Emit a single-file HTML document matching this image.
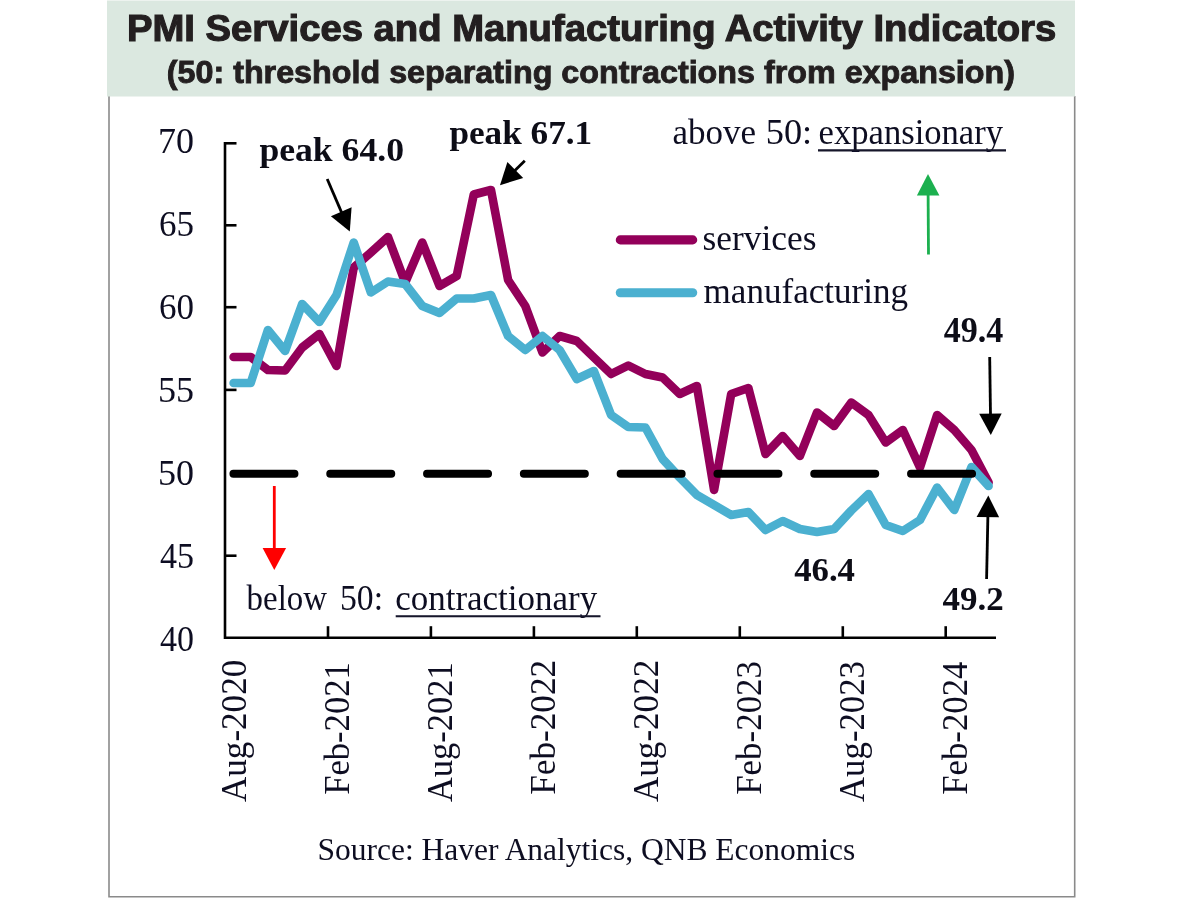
<!DOCTYPE html>
<html lang="en"><head><meta charset="utf-8">
<title>PMI Services and Manufacturing Activity Indicators</title>
<style>
html,body{margin:0;padding:0;background:#fff;}
body{width:1200px;height:900px;overflow:hidden;position:relative;}
svg{position:absolute;left:0;top:0;display:block;}
.sans{font-family:"Liberation Sans",Arial,Helvetica,sans-serif;font-weight:bold;fill:#231f20;}
.ser{font-family:"Liberation Serif","Times New Roman",Times,serif;fill:#0e0e20;}
.b{font-weight:bold;fill:#0a0a18;}
</style></head><body>
<svg width="1200" height="900" viewBox="0 0 1200 900">

<path d="M109 96 V896.8 H1074.7 V96" fill="none" stroke="#8a8a8a" stroke-width="1.6"/>
<rect x="107" y="0.5" width="968" height="96" fill="#dbe8e0"/>
<text class="sans" x="127.0" y="40.8" font-size="36" textLength="929.2" lengthAdjust="spacingAndGlyphs" stroke="#231f20" stroke-width="1.1" stroke-linejoin="miter" stroke-miterlimit="3" paint-order="stroke">PMI Services and Manufacturing Activity Indicators</text>
<text class="sans" x="166.8" y="82.5" font-size="31" textLength="848.2" lengthAdjust="spacingAndGlyphs" stroke="#231f20" stroke-width="0.9" stroke-linejoin="miter" stroke-miterlimit="3" paint-order="stroke">(50: threshold separating contractions from expansion)</text>
<defs><filter id="soft" x="0" y="0" width="1200" height="900" filterUnits="userSpaceOnUse"><feGaussianBlur stdDeviation="0.45"/></filter></defs>
<g filter="url(#soft)">
<g stroke="#000" stroke-width="2.6" fill="none">
<path d="M225.0 142.1 V637.7 H996"/>
<path d="M225.0 143.3 h11.5"/>
<path d="M225.0 225.3 h11.5"/>
<path d="M225.0 307.2 h11.5"/>
<path d="M225.0 389.9 h11.5"/>
<path d="M225.0 555.7 h11.5"/>
<path d="M328.0 637.7 v-11.5"/>
<path d="M430.9 637.7 v-11.5"/>
<path d="M533.9 637.7 v-11.5"/>
<path d="M636.8 637.7 v-11.5"/>
<path d="M739.8 637.7 v-11.5"/>
<path d="M842.8 637.7 v-11.5"/>
<path d="M945.7 637.7 v-11.5"/>
</g>
<polyline points="233.6,357.0 250.7,357.0 267.9,370.0 285.1,370.5 302.2,347.5 319.4,334.0 336.5,366.0 353.7,267.5 370.9,252.5 388.0,237.0 405.2,282.5 422.3,242.5 439.5,286.0 456.7,276.0 473.8,194.5 491.0,190.0 508.1,280.0 525.3,306.0 542.5,352.5 559.6,336.0 576.8,341.0 593.9,357.5 611.1,374.0 628.3,365.5 645.4,374.0 662.6,377.5 679.7,394.0 696.9,386.0 714.1,490.0 731.2,394.0 748.4,388.0 765.5,454.0 782.7,436.0 799.9,456.0 817.0,412.5 834.2,426.0 851.3,402.5 868.5,415.0 885.7,442.5 902.8,430.0 920.0,467.5 937.1,415.0 954.3,430.0 971.5,450.0 988.6,482.5" fill="none" stroke="#93005a" stroke-width="8.6" stroke-linecap="round" stroke-linejoin="round"/>
<polyline points="233.6,383.0 250.7,383.0 267.9,330.0 285.1,351.0 302.2,304.0 319.4,322.0 336.5,295.0 353.7,242.5 370.9,292.5 388.0,281.5 405.2,284.0 422.3,306.0 439.5,313.0 456.7,298.5 473.8,298.5 491.0,295.0 508.1,336.0 525.3,350.0 542.5,336.0 559.6,350.0 576.8,379.0 593.9,371.0 611.1,415.0 628.3,427.0 645.4,427.5 662.6,459.0 679.7,477.5 696.9,495.0 714.1,505.0 731.2,515.0 748.4,512.0 765.5,530.0 782.7,521.0 799.9,529.0 817.0,532.0 834.2,529.0 851.3,510.5 868.5,494.0 885.7,525.0 902.8,531.0 920.0,520.0 937.1,487.5 954.3,510.0 971.5,467.0 988.6,486.0" fill="none" stroke="#4bb0d0" stroke-width="8.6" stroke-linecap="round" stroke-linejoin="round"/>
<path d="M233.4 473.8 H975" stroke="#000" stroke-width="7.9" stroke-linecap="round" stroke-dasharray="61.1 35.7" fill="none"/>
<path d="M620.3 239.9 H692.7" stroke="#93005a" stroke-width="9.1" stroke-linecap="round"/>
<path d="M620.3 292.7 H692.7" stroke="#4bb0d0" stroke-width="9.1" stroke-linecap="round"/>
<text class="ser b" x="259.4" y="161.0" font-size="34" textLength="144.6" lengthAdjust="spacingAndGlyphs">peak 64.0</text>
<text class="ser b" x="449.4" y="143.7" font-size="34" textLength="142.8" lengthAdjust="spacingAndGlyphs">peak 67.1</text>
<text class="ser" x="672.4" y="143.8" font-size="35" textLength="83.6" lengthAdjust="spacingAndGlyphs">above</text>
<text class="ser" x="765.8" y="143.8" font-size="35" textLength="46.4" lengthAdjust="spacingAndGlyphs">50:</text>
<text class="ser" x="818.6" y="143.8" font-size="35" textLength="184.4" lengthAdjust="spacingAndGlyphs">expansionary</text>
<text class="ser" x="702.6" y="249.6" font-size="35" textLength="113.8" lengthAdjust="spacingAndGlyphs">services</text>
<text class="ser" x="703.6" y="302.5" font-size="35" textLength="204.4" lengthAdjust="spacingAndGlyphs">manufacturing</text>
<text class="ser b" x="943.8" y="342.3" font-size="35" textLength="59.6" lengthAdjust="spacingAndGlyphs">49.4</text>
<text class="ser b" x="794.2" y="581.0" font-size="34" textLength="60.8" lengthAdjust="spacingAndGlyphs">46.4</text>
<text class="ser b" x="942.6" y="610.0" font-size="34" textLength="61.2" lengthAdjust="spacingAndGlyphs">49.2</text>
<text class="ser" x="246.6" y="610.2" font-size="35" textLength="80.4" lengthAdjust="spacingAndGlyphs">below</text>
<text class="ser" x="340.0" y="610.2" font-size="35" textLength="43.0" lengthAdjust="spacingAndGlyphs">50:</text>
<text class="ser" x="395.2" y="610.2" font-size="35" textLength="202.0" lengthAdjust="spacingAndGlyphs">contractionary</text>
<text class="ser" x="317.6" y="859.5" font-size="30.5" textLength="537.6" lengthAdjust="spacingAndGlyphs">Source: Haver Analytics, QNB Economics</text>
<text class="ser" x="158.0" y="152.9" font-size="36" textLength="36.0" lengthAdjust="spacingAndGlyphs">70</text>
<text class="ser" x="159.0" y="235.9" font-size="36" textLength="35.0" lengthAdjust="spacingAndGlyphs">65</text>
<text class="ser" x="159.0" y="318.9" font-size="36" textLength="35.0" lengthAdjust="spacingAndGlyphs">60</text>
<text class="ser" x="158.0" y="401.9" font-size="36" textLength="36.0" lengthAdjust="spacingAndGlyphs">55</text>
<text class="ser" x="158.0" y="484.9" font-size="36" textLength="36.0" lengthAdjust="spacingAndGlyphs">50</text>
<text class="ser" x="160.0" y="567.9" font-size="36" textLength="34.0" lengthAdjust="spacingAndGlyphs">45</text>
<text class="ser" x="160.0" y="650.9" font-size="36" textLength="34.0" lengthAdjust="spacingAndGlyphs">40</text>
<path d="M818 150.4 H1006 M395.7 616.3 H600.5" stroke="#14142a" stroke-width="2.1" fill="none"/>
<text class="ser" transform="translate(246.3 802.0) rotate(-90)" x="0.0" font-size="35" textLength="142.2" lengthAdjust="spacingAndGlyphs">Aug-2020</text>
<text class="ser" transform="translate(349.3 793.8) rotate(-90)" x="-1.0" font-size="35" textLength="132.6" lengthAdjust="spacingAndGlyphs">Feb-2021</text>
<text class="ser" transform="translate(452.2 802.0) rotate(-90)" x="0.0" font-size="35" textLength="139.6" lengthAdjust="spacingAndGlyphs">Aug-2021</text>
<text class="ser" transform="translate(555.2 793.8) rotate(-90)" x="-1.0" font-size="35" textLength="135.0" lengthAdjust="spacingAndGlyphs">Feb-2022</text>
<text class="ser" transform="translate(658.1 802.0) rotate(-90)" x="0.0" font-size="35" textLength="142.2" lengthAdjust="spacingAndGlyphs">Aug-2022</text>
<text class="ser" transform="translate(761.1 793.8) rotate(-90)" x="-1.0" font-size="35" textLength="133.8" lengthAdjust="spacingAndGlyphs">Feb-2023</text>
<text class="ser" transform="translate(864.1 802.0) rotate(-90)" x="0.0" font-size="35" textLength="141.0" lengthAdjust="spacingAndGlyphs">Aug-2023</text>
<text class="ser" transform="translate(967.0 793.8) rotate(-90)" x="-1.0" font-size="35" textLength="133.2" lengthAdjust="spacingAndGlyphs">Feb-2024</text>
<path d="M327.2 179.0 L342.1 213.6" stroke="#000" stroke-width="2.8" fill="none"/>
<path d="M349.8 231.5 L330.9 216.2 L351.6 207.3 Z" fill="#000"/>
<path d="M524.8 160.8 L513.9 171.5" stroke="#000" stroke-width="2.8" fill="none"/>
<path d="M500.0 185.2 L507.4 162.1 L523.2 178.1 Z" fill="#000"/>
<path d="M989.7 357.0 L990.5 415.5" stroke="#000" stroke-width="2.8" fill="none"/>
<path d="M990.8 435.0 L979.2 413.7 L1001.7 413.4 Z" fill="#000"/>
<path d="M986.6 579.0 L987.9 515.1" stroke="#000" stroke-width="2.8" fill="none"/>
<path d="M988.3 495.6 L999.1 517.3 L976.6 516.9 Z" fill="#000"/>
<path d="M928.5 254.5 L928.1 193.5" stroke="#1bb04f" stroke-width="2.8" fill="none"/>
<path d="M928.0 174.0 L939.4 195.4 L916.9 195.6 Z" fill="#1bb04f"/>
<path d="M274.3 486.0 L274.3 550.0" stroke="#ff0000" stroke-width="2.8" fill="none"/>
<path d="M274.3 570.0 L262.6 548.0 L286.1 548.0 Z" fill="#ff0000"/>
</g>
</svg></body></html>
